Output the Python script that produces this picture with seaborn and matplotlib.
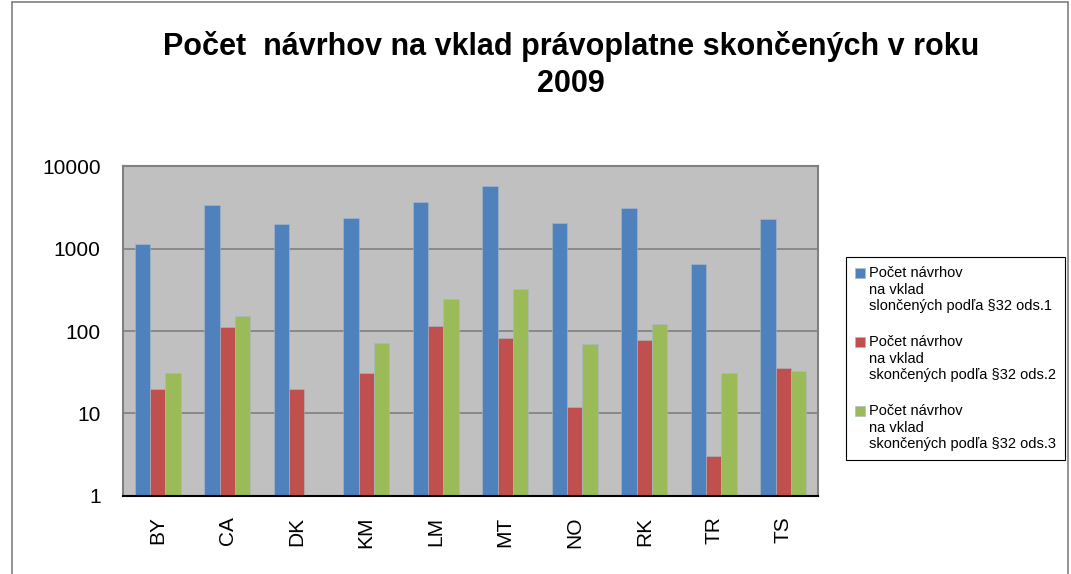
import numpy as np
import pandas as pd
import matplotlib
matplotlib.use("Agg")
import matplotlib.pyplot as plt
import seaborn as sns
from matplotlib.lines import Line2D
from matplotlib.patches import Rectangle
from matplotlib.legend_handler import HandlerPatch
from matplotlib.ticker import FixedLocator, NullLocator

# data (log scale)
districts = ['BY', 'CA', 'DK', 'KM', 'LM', 'MT', 'NO', 'RK', 'TR', 'TS']
ods1 = [1150, 3400, 2000, 2350, 3650, 5800, 2050, 3150, 650, 2280]
ods2 = [20, 113, 20, 31, 115, 82, 12, 78, 3, 36]
ods3 = [31, 154, 0, 71, 245, 325, 70, 121, 31, 33]

series_names = ['Počet návrhov\nna vklad\nslončených podľa §32 ods.1',
                'Počet návrhov\nna vklad\nskončených podľa §32 ods.2',
                'Počet návrhov\nna vklad\nskončených podľa §32 ods.3']
colors = ['#4F81BD', '#C0504D', '#9BBB59']

df = pd.DataFrame({'Okres': districts,
                   series_names[0]: ods1,
                   series_names[1]: ods2,
                   series_names[2]: ods3})
df_long = df.melt(id_vars='Okres', var_name='Séria', value_name='Počet')

sns.set_style('white')
plt.rcParams['font.family'] = ['Liberation Sans', 'DejaVu Sans']
plt.rcParams.update({'text.color': 'black', 'xtick.color': 'black',
                     'ytick.color': 'black', 'axes.labelcolor': 'black'})

fig = plt.figure(figsize=(10.71, 5.74), dpi=100)
ax = fig.add_axes([0.1148, 0.1364, 0.649, 0.5737])
ax.set_yscale('log')

sns.barplot(data=df_long, x='Okres', y='Počet', hue='Séria', palette=colors,
            width=0.66, gap=0, saturation=1, ax=ax, legend=True,
            edgecolor='#a8b8cc', linewidth=0.4)

ax.set_ylim(1, 10000)
ax.set_xlim(-0.5, len(districts) - 0.5)
ax.set_facecolor('#C0C0C0')
ax.yaxis.set_major_locator(FixedLocator([1, 10, 100, 1000, 10000]))
ax.yaxis.set_minor_locator(NullLocator())
ax.set_yticklabels(['1', '10', '100', '1000', '10000'], fontsize=15)
ax.set_xticks(range(len(districts)))
ax.set_xticklabels(districts, rotation=90, fontsize=15)
ax.tick_params(axis='x', length=0, pad=15)
ax.tick_params(axis='y', length=0, pad=16)
ax.set_xlabel('')
ax.set_ylabel('')
ax.grid(axis='y', color='#808080', linewidth=1.2)
ax.set_axisbelow(True)
for side in ['top', 'right', 'left']:
    ax.spines[side].set_color('#808080')
    ax.spines[side].set_linewidth(1.5)
ax.spines['bottom'].set_color('black')
ax.spines['bottom'].set_linewidth(1.5)

leg_fs = 10.5


# put the colour square next to the first line of each label
def top_square(legend, orig_handle, xdescent, ydescent, width, height, fontsize):
    return Rectangle((-xdescent, -ydescent + 1.15 * fontsize), width, height)


handles, labels = ax.get_legend_handles_labels()
ax.legend(handles, labels, loc='upper left', bbox_to_anchor=(846 / 1071, 1 - 257 / 574),
          bbox_transform=fig.transFigure, fontsize=leg_fs, frameon=True, fancybox=False,
          edgecolor='black', handlelength=0.65, handleheight=0.65, handletextpad=0.25,
          labelspacing=1.55, borderpad=0.65, borderaxespad=0, framealpha=1,
          handler_map={h: HandlerPatch(patch_func=top_square) for h in handles})
ax.get_legend().get_frame().set_linewidth(0.8)

fig.text(0.533, 1 - 31 / 574, 'Počet  návrhov na vklad právoplatne skončených v roku\n2009',
         ha='center', va='top', fontsize=22, fontweight='bold', linespacing=1.3)

# outer chart border
border = dict(color='#808080', linewidth=1.2, transform=fig.transFigure)
fig.add_artist(Line2D([12 / 1071, 12 / 1071], [0, 1 - 2 / 574], **border))
fig.add_artist(Line2D([12 / 1071, 1068 / 1071], [1 - 2 / 574, 1 - 2 / 574], **border))
fig.add_artist(Line2D([1068 / 1071, 1068 / 1071], [0, 1 - 2 / 574], **border))

fig.savefig('out.png', dpi=100)
